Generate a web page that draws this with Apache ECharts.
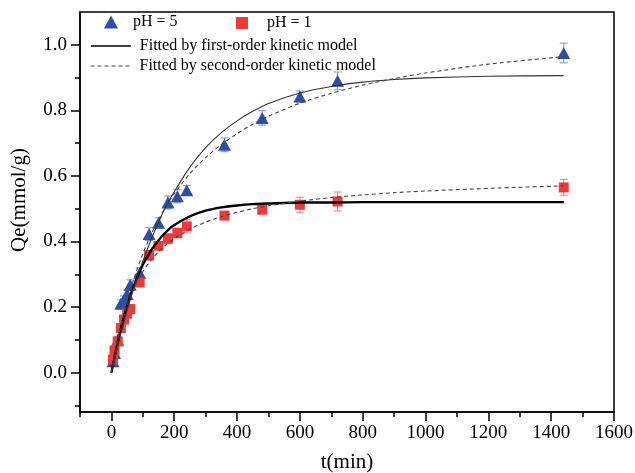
<!doctype html>
<html>
<head>
    <meta charset="UTF-8">
    <title>Qe vs t</title>
    <script src="https://cdn.jsdelivr.net/npm/echarts@6/dist/echarts.min.js"></script>
    <style>
        html, body { margin: 0; padding: 0; background: #fff; }
        #main { width: 635px; height: 473px; }
    </style>
</head>
<body>
<div id="main"></div>
<script>
    // measured points
    var tData = [5, 10, 20, 30, 40, 50, 60, 90, 120, 150, 180, 210, 240, 360, 480, 600, 720, 1440];
    var qPH5 = [0.035, 0.06, 0.10, 0.21, 0.222, 0.24, 0.268, 0.304, 0.423, 0.457, 0.519, 0.538, 0.556, 0.695, 0.777, 0.842, 0.89, 0.975];
    var errPH5 = [0.01, 0.01, 0.01, 0.012, 0.012, 0.012, 0.015, 0.015, 0.02, 0.015, 0.02, 0.02, 0.015, 0.021, 0.022, 0.017, 0.027, 0.03];
    var qPH1 = [0.04, 0.068, 0.095, 0.136, 0.162, 0.18, 0.194, 0.275, 0.358, 0.387, 0.409, 0.426, 0.446, 0.479, 0.497, 0.512, 0.522, 0.565];
    var errPH1 = [0.01, 0.01, 0.01, 0.01, 0.01, 0.01, 0.012, 0.012, 0.015, 0.012, 0.015, 0.015, 0.02, 0.012, 0.01, 0.023, 0.029, 0.024];

    // fitted curves
    var fitT = [0, 25, 50, 75, 100, 125, 150, 175, 200, 250, 300, 350, 400, 450, 500, 600, 700, 800, 900, 1000, 1200, 1440];
    var first5 = [0, 0.101, 0.19, 0.269, 0.34, 0.403, 0.459, 0.509, 0.552, 0.627, 0.686, 0.732, 0.768, 0.797, 0.821, 0.853, 0.873, 0.886, 0.894, 0.899, 0.904, 0.906];
    var second5 = [0, 0.12, 0.217, 0.296, 0.363, 0.419, 0.467, 0.509, 0.546, 0.607, 0.656, 0.696, 0.729, 0.758, 0.782, 0.822, 0.852, 0.877, 0.897, 0.914, 0.941, 0.964];
    var first1 = [0, 0.115, 0.205, 0.274, 0.329, 0.371, 0.404, 0.43, 0.45, 0.477, 0.494, 0.504, 0.51, 0.514, 0.516, 0.519, 0.519, 0.52, 0.52, 0.52, 0.52, 0.52];
    var second1 = [0, 0.124, 0.206, 0.265, 0.308, 0.342, 0.369, 0.391, 0.409, 0.438, 0.459, 0.476, 0.489, 0.5, 0.509, 0.523, 0.534, 0.542, 0.549, 0.554, 0.562, 0.57];

    // axis ticks
    var xTicks = [0, 200, 400, 600, 800, 1000, 1200, 1400, 1600];
    var xMinor = [-100, 100, 300, 500, 700, 900, 1100, 1300, 1500];
    var yTicks = [0, 0.2, 0.4, 0.6, 0.8, 1.0];
    var yMinor = [-0.1, 0.1, 0.3, 0.5, 0.7, 0.9];

    var FONT = 'Liberation Serif';
    var LEG1 = 'Fitted by first-order kinetic model';
    var LEG2 = 'Fitted by second-order kinetic model';

    function pairs(xs, ys) {
        return xs.map(function (x, i) { return [x, ys[i]]; });
    }
    function triples(xs, ys, es) {
        return xs.map(function (x, i) { return [x, ys[i], es[i]]; });
    }

    function errBars(color) {
        return function (params, api) {
            var x = api.value(0), y = api.value(1), e = api.value(2);
            var top = api.coord([x, y + e]);
            var bot = api.coord([x, y - e]);
            var w = 4;
            var st = { stroke: color, lineWidth: 1 };
            return {
                type: 'group',
                children: [
                    { type: 'line', shape: { x1: top[0], y1: top[1], x2: bot[0], y2: bot[1] }, style: st },
                    { type: 'line', shape: { x1: top[0] - w, y1: top[1], x2: top[0] + w, y2: top[1] }, style: st },
                    { type: 'line', shape: { x1: bot[0] - w, y1: bot[1], x2: bot[0] + w, y2: bot[1] }, style: st }
                ]
            };
        };
    }

    function fitLine(name, ys, color, width, type) {
        return {
            name: name, type: 'line', smooth: 0.25,
            showSymbol: false, symbol: 'none',
            itemStyle: { color: 'rgba(0,0,0,0)' },
            lineStyle: { color: color, width: width, type: type || 'solid' },
            data: pairs(fitT, ys), z: 4
        };
    }

    var myChart = echarts.init(document.getElementById('main'));

    var legendText = { fontFamily: FONT, fontSize: 16, color: '#000' };

    var option = {
        animation: false,
        grid: {
            left: 80, right: 21, top: 12, bottom: 61,
            show: true, borderColor: '#000', borderWidth: 1.5,
            outerBoundsMode: 'none'
        },
        legend: [
            {
                data: ['pH = 5'], left: 99, top: 9, itemWidth: 14, itemHeight: 13,
                textStyle: Object.assign({ padding: [0, 0, 0, 10] }, legendText)
            },
            {
                data: ['pH = 1'], left: 231, top: 10, itemWidth: 12, itemHeight: 12,
                textStyle: Object.assign({ padding: [0, 0, 0, 14] }, legendText)
            },
            {
                data: [LEG1], left: 85, top: 33, itemWidth: 40, itemHeight: 16,
                lineStyle: { width: 1.6, color: '#000' },
                textStyle: Object.assign({ padding: [0, 0, 0, 4] }, legendText)
            },
            {
                data: [LEG2], left: 85, top: 53, itemWidth: 40, itemHeight: 16,
                lineStyle: { width: 1, color: '#444' },
                textStyle: Object.assign({ padding: [0, 0, 0, 4] }, legendText)
            }
        ],
        xAxis: [
            {
                type: 'value', min: -100, max: 1600, position: 'bottom',
                name: 't(min)', nameLocation: 'middle', nameGap: 40,
                nameTextStyle: { fontFamily: FONT, fontSize: 21, color: '#000' },
                axisLine: { onZero: false, lineStyle: { color: '#000', width: 1.5 } },
                axisTick: { show: true, customValues: xTicks, length: 9, lineStyle: { color: '#000', width: 1.5 } },
                axisLabel: {
                    customValues: xTicks, fontFamily: FONT, fontSize: 19, color: '#000', margin: 12,
                    formatter: function (v) { return String(v); }
                },
                splitLine: { show: false }
            },
            {
                type: 'value', min: -100, max: 1600, position: 'bottom',
                axisLine: { show: false, onZero: false },
                axisTick: { show: true, customValues: xMinor, length: 5, lineStyle: { color: '#000', width: 1.5 } },
                axisLabel: { show: false },
                splitLine: { show: false }
            }
        ],
        yAxis: [
            {
                type: 'value', min: -0.12, max: 1.1, position: 'left',
                name: 'Qe(mmol/g)', nameLocation: 'middle', nameGap: 50,
                nameTextStyle: { fontFamily: FONT, fontSize: 21, color: '#000', padding: [0, 0, 0, 24] },
                axisLine: { onZero: false, lineStyle: { color: '#000', width: 1.5 } },
                axisTick: { show: true, customValues: yTicks, length: 9, lineStyle: { color: '#000', width: 1.5 } },
                axisLabel: {
                    customValues: yTicks, fontFamily: FONT, fontSize: 19, color: '#000', margin: 13,
                    formatter: function (v) { return v.toFixed(1); }
                },
                splitLine: { show: false }
            },
            {
                type: 'value', min: -0.12, max: 1.1, position: 'left',
                axisLine: { show: false, onZero: false },
                axisTick: { show: true, customValues: yMinor, length: 5, lineStyle: { color: '#000', width: 1.5 } },
                axisLabel: { show: false },
                splitLine: { show: false }
            }
        ],
        series: [
            {
                type: 'custom', renderItem: errBars('#7d90d8'), data: triples(tData, qPH5, errPH5),
                encode: { x: 0, y: 1 }, z: 2, silent: true
            },
            {
                type: 'custom', renderItem: errBars('#f27c7c'), data: triples(tData, qPH1, errPH1),
                encode: { x: 0, y: 1 }, z: 2, silent: true
            },
            {
                name: 'pH = 5', type: 'scatter', symbol: 'triangle', symbolSize: [13, 12],
                itemStyle: { color: '#2f4ea6', opacity: 1 }, data: pairs(tData, qPH5), z: 3
            },
            {
                name: 'pH = 1', type: 'scatter', symbol: 'rect', symbolSize: 10,
                itemStyle: { color: '#ef3a3c', opacity: 1 }, data: pairs(tData, qPH1), z: 3
            },
            fitLine(LEG1, first1, '#000', 2.4),
            fitLine(LEG1, first5, '#333', 1.1),
            fitLine(LEG2, second5, '#444', 1.1, [4, 3]),
            fitLine(LEG2, second1, '#444', 1.1, [4, 3])
        ]
    };

    myChart.setOption(option);
</script>
</body>
</html>
